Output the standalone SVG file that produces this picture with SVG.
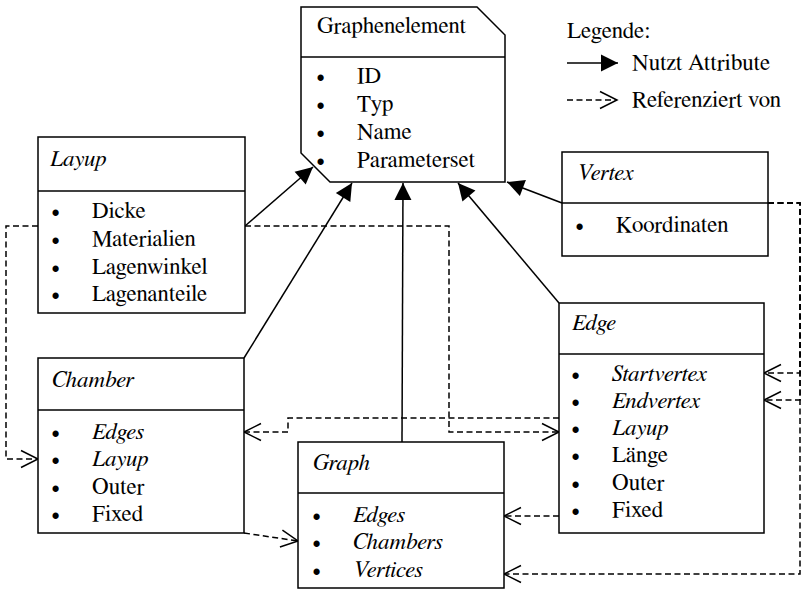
<svg xmlns="http://www.w3.org/2000/svg" width="801" height="590" viewBox="0 0 801 590">
<style>
text{font-family:FreeSerif,'Liberation Serif','Times New Roman',serif;font-size:23px;fill:#000}
.it{font-style:italic}
.box{fill:#fff;stroke:#000;stroke-width:1.5}
.div{stroke:#000;stroke-width:1.5}
.solid{fill:none;stroke:#000;stroke-width:1.5;marker-end:url(#fill)}
.dash{fill:none;stroke:#000;stroke-width:1.5;stroke-dasharray:6 3.5;marker-end:url(#open)}
</style>
<defs>
<marker id="fill" markerUnits="userSpaceOnUse" markerWidth="18" markerHeight="18" refX="17" refY="8.5" orient="auto" overflow="visible">
<path d="M0,0 L17,8.5 L0,17 z" fill="#000" stroke="none"/>
</marker>
<marker id="open" markerUnits="userSpaceOnUse" markerWidth="18" markerHeight="18" refX="17" refY="8.5" orient="auto" overflow="visible">
<path d="M0,0 L17,8.5 L0,17" fill="none" stroke="#000" stroke-width="1.5" stroke-dasharray="none"/>
</marker>
</defs>
<rect width="801" height="590" fill="#fff"/>

<g id="connectors">
<path class="solid" d="M245,226 L313,167"/>
<path class="solid" d="M244,358 L352,183"/>
<path class="solid" d="M402,442 L403,183"/>
<path class="solid" d="M559,303 L458,183"/>
<path class="solid" d="M562,203 L507,182"/>
<path class="dash" d="M38,226 L6,226 L6,459 L38,459"/>
<path class="dash" d="M245,226 L449,226 L449,432 L559,432"/>
<path class="dash" d="M559,418 L288,418 L288,432 L244,432"/>
<path class="dash" d="M244,533 L298,541"/>
<path class="dash" d="M559,516 L504,516"/>
<path class="dash" d="M768,203 L800,203 L800,574 L504,574"/>
<path class="dash" d="M768,203 L800,203 L800,373 L764,373"/>
<path class="dash" d="M768,203 L800,203 L800,400 L764,400"/>
</g>

<g id="graphenelement">
<path class="box" d="M301,7 L477,7 L505,35 L505,182 L330,182 L301,153 Z"/>
<line class="div" x1="301" y1="57" x2="505" y2="57"/>
<text x="317" y="33">Graphenelement</text>
<text x="316" y="83">•</text><text x="357" y="83">ID</text>
<text x="316" y="111">•</text><text x="357" y="111">Typ</text>
<text x="316" y="139">•</text><text x="357" y="139">Name</text>
<text x="316" y="167">•</text><text x="357" y="167">Parameterset</text>
</g>

<g id="legend">
<text x="567" y="38">Legende:</text>
<line x1="567" y1="63" x2="618" y2="63" stroke="#000" stroke-width="1.5" marker-end="url(#fill)"/>
<text x="632" y="70">Nutzt Attribute</text>
<line x1="567" y1="100" x2="617" y2="100" stroke="#000" stroke-width="1.5" stroke-dasharray="6 3.5" marker-end="url(#open)"/>
<text x="632" y="107">Referenziert von</text>
</g>

<g id="layup">
<rect class="box" x="38" y="137" width="207" height="176"/>
<line class="div" x1="38" y1="191" x2="245" y2="191"/>
<text class="it" x="50" y="166">Layup</text>
<text x="51" y="218">•</text><text x="92" y="218">Dicke</text>
<text x="51" y="246">•</text><text x="92" y="246">Materialien</text>
<text x="51" y="274">•</text><text x="92" y="274">Lagenwinkel</text>
<text x="51" y="301">•</text><text x="92" y="301">Lagenanteile</text>
</g>

<g id="vertex">
<rect class="box" x="562" y="152" width="206" height="104"/>
<line class="div" x1="562" y1="203" x2="768" y2="203"/>
<text class="it" x="577" y="180">Vertex</text>
<text x="575" y="232">•</text><text x="616" y="232">Koordinaten</text>
</g>

<g id="chamber">
<rect class="box" x="38" y="358" width="206" height="175"/>
<line class="div" x1="38" y1="410" x2="244" y2="410"/>
<text class="it" x="52" y="387">Chamber</text>
<text x="51" y="439">•</text><text class="it" x="92" y="439">Edges</text>
<text x="51" y="466">•</text><text class="it" x="92" y="466">Layup</text>
<text x="51" y="494">•</text><text x="92" y="494">Outer</text>
<text x="51" y="521">•</text><text x="92" y="521">Fixed</text>
</g>

<g id="edge">
<rect class="box" x="559" y="303" width="205" height="230"/>
<line class="div" x1="559" y1="354" x2="764" y2="354"/>
<text class="it" x="572" y="330">Edge</text>
<text x="571" y="381">•</text><text class="it" x="612" y="381">Startvertex</text>
<text x="571" y="408">•</text><text class="it" x="612" y="408">Endvertex</text>
<text x="571" y="435">•</text><text class="it" x="612" y="435">Layup</text>
<text x="571" y="462">•</text><text x="612" y="462">Länge</text>
<text x="571" y="490">•</text><text x="612" y="490">Outer</text>
<text x="571" y="517">•</text><text x="612" y="517">Fixed</text>
</g>

<g id="graph">
<rect class="box" x="298" y="442" width="206" height="146"/>
<line class="div" x1="298" y1="493" x2="504" y2="493"/>
<text class="it" x="313" y="470">Graph</text>
<text x="312" y="522">•</text><text class="it" x="353" y="522">Edges</text>
<text x="312" y="549">•</text><text class="it" x="353" y="549">Chambers</text>
<text x="312" y="577">•</text><text class="it" x="353" y="577">Vertices</text>
</g>
</svg>
